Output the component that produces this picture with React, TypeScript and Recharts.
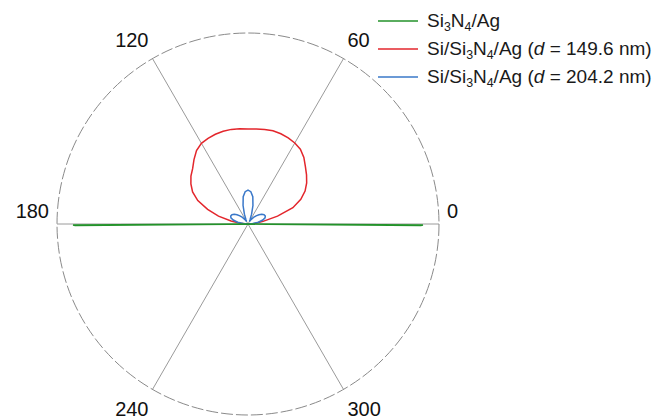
import React from "react";
import { RadarChart, Radar, PolarGrid, PolarAngleAxis, PolarRadiusAxis, Legend } from "recharts";

// polar angle in degrees (0 = right, counter-clockwise), normalised intensity
const angles = [
  0, 5, 10, 15, 20, 25, 30, 35, 40, 45, 50, 55, 60, 65, 70, 75, 80, 85, 90,
  95, 100, 105, 110, 115, 120, 125, 130, 135, 140, 145, 150, 155, 160, 165, 170, 175, 180,
  180.3, 180.5, 181, 185, 270, 355, 359, 359.5, 359.7,
];

const si3n4Ag = [
  0, 0, 0, 0, 0, 0, 0, 0, 0, 0, 0, 0, 0, 0, 0, 0, 0, 0, 0,
  0, 0, 0, 0, 0, 0, 0, 0, 0, 0, 0, 0, 0, 0, 0, 0, 0, 0,
  0.916, 0.905, 0.1, 0, 0, 0, 0.1, 0.905, 0.916,
];

const siD149 = [
  0, 0.035, 0.08, 0.16, 0.25, 0.305, 0.345, 0.375, 0.4, 0.425, 0.455, 0.478, 0.49, 0.498, 0.503, 0.505, 0.502, 0.499, 0.498,
  0.5, 0.503, 0.503, 0.5, 0.495, 0.488, 0.47, 0.44, 0.41, 0.39, 0.365, 0.335, 0.29, 0.225, 0.16, 0.09, 0.04, 0,
  0, 0, 0, 0, 0, 0, 0, 0, 0,
];

const siD204 = [
  0, 0.025, 0.055, 0.08, 0.095, 0.1, 0.097, 0.088, 0.075, 0.06, 0.045, 0.03, 0.015, 0.025, 0.055, 0.1, 0.145, 0.17, 0.178,
  0.17, 0.145, 0.1, 0.055, 0.025, 0.015, 0.03, 0.045, 0.06, 0.075, 0.088, 0.097, 0.1, 0.095, 0.08, 0.055, 0.025, 0,
  0, 0, 0, 0, 0, 0, 0, 0, 0,
];

const angleTicks = [0, 60, 120, 180, 240, 300];
const seriesNames = ["Si3N4/Ag", "Si/Si3N4/Ag (d = 149.6 nm)", "Si/Si3N4/Ag (d = 204.2 nm)"];

const data = angles.map((a, i) => ({ angle: a, green: si3n4Ag[i], red: siD149[i], blue: siD204[i] }));

const FONT = '"Liberation Sans", Arial, sans-serif';

// digits right after a letter go to subscript, the "d" after "(" is italic
function formatName(name: string) {
  const out: React.ReactNode[] = [];
  for (let i = 0; i < name.length; i++) {
    const c = name[i];
    const prev = name[i - 1] ?? "";
    if (/\d/.test(c) && /[A-Za-z]/.test(prev)) {
      out.push(<sub key={i} style={{ fontSize: "0.65em", verticalAlign: "-0.3em", lineHeight: 0 }}>{c}</sub>);
    } else if (c === "d" && prev === "(") {
      out.push(<i key={i}>{c}</i>);
    } else {
      out.push(c);
    }
  }
  return out;
}

function LegendBox(props: any) {
  const payload = [...(props.payload ?? [])].sort(
    (a: any, b: any) => seriesNames.indexOf(a.value) - seriesNames.indexOf(b.value)
  );
  return (
    <div style={{ fontFamily: FONT, fontSize: 19, color: "#1a1a1a" }}>
      {payload.map((e: any) => (
        <div key={e.value} style={{ display: "flex", alignItems: "center", height: 28, whiteSpace: "nowrap" }}>
          <svg width={40} height={4}>
            <line x1={0} x2={40} y1={2} y2={2} stroke={e.color} strokeWidth={1.5} />
          </svg>
          <span style={{ marginLeft: 9 }}>{formatName(String(e.value))}</span>
        </div>
      ))}
    </div>
  );
}

function AngleTick(props: any) {
  const { x, y, textAnchor, payload } = props;
  const v = Number(payload?.value);
  if (!angleTicks.includes(v)) return <g />;
  const dy = v > 180 ? 20 : v === 0 || v === 180 ? -6 : -5;
  return (
    <text x={x} y={y} dy={dy} textAnchor={textAnchor} fontSize={20} fontFamily={FONT} fill="#111">
      {v}
    </text>
  );
}

export default function App() {
  return (
    <div style={{ position: "absolute", left: 0, top: 0, width: 661, height: 419, background: "#fff" }}>
      <RadarChart
        width={661}
        height={419}
        data={data}
        cx={248}
        cy={224}
        outerRadius={191}
        startAngle={0}
        endAngle={360}
        margin={{ top: 0, right: 0, bottom: 0, left: 0 }}
      >
        <PolarGrid gridType="circle" polarAngles={angleTicks} polarRadius={[]} stroke="#9a9a9a" strokeWidth={1} />
        <PolarGrid gridType="circle" radialLines={false} polarAngles={angleTicks} polarRadius={[191]} stroke="#8a8a8a" strokeDasharray="12 3" />
        <PolarAngleAxis
          dataKey="angle"
          type="number"
          domain={[0, 360]}
          ticks={angleTicks as any}
          tickCount={7}
          axisLine={false}
          tickLine={false}
          tick={<AngleTick />}
        />
        <PolarRadiusAxis domain={[0, 1]} type="number" tick={false} axisLine={false} />
        <Radar name={seriesNames[1]} dataKey="red" stroke="#e3262c" strokeWidth={1.5} fill="none" dot={false} isAnimationActive={false} />
        <Radar name={seriesNames[2]} dataKey="blue" stroke="#3a78c9" strokeWidth={1.5} fill="none" dot={false} isAnimationActive={false} />
        <Radar name={seriesNames[0]} dataKey="green" stroke="#23922a" strokeWidth={1.5} fill="none" dot={false} isAnimationActive={false} />
        <Legend
          layout="vertical"
          align="right"
          verticalAlign="top"
          content={<LegendBox />}
          wrapperStyle={{ top: 7, left: 378, right: "auto", width: 290 }}
        />
      </RadarChart>
    </div>
  );
}
